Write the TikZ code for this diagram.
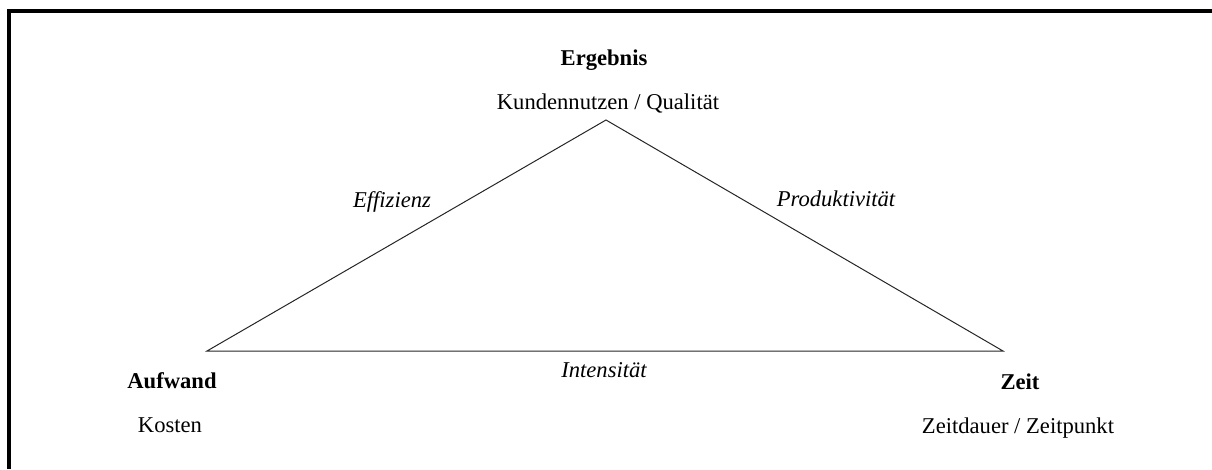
\documentclass[tikz,border=0pt]{standalone}
\usepackage{fontspec}
\setmainfont{Liberation Serif}
\usepackage{tikz}
\usetikzlibrary{calc,positioning}

\begin{document}
\begin{tikzpicture}[
  x=1pt, y=-1pt,
  corner title/.style={anchor=base, inner sep=0pt, font=\fontsize{22.6}{26}\selectfont\bfseries},
  corner text/.style={anchor=base, inner sep=0pt, font=\fontsize{22.6}{26}\selectfont},
  edge label/.style={anchor=base, inner sep=0pt, font=\fontsize{22.6}{26}\selectfont\itshape},
  frame/.style={line width=4pt, black},
  side/.style={line width=1pt, black!85}
]
  \useasboundingbox (0,0) rectangle (1212,469);
  % Frame (top and left only)
  \coordinate (fbot) at (9,469);
  \coordinate (fcorner) at (9,11);
  \coordinate (fright) at (1212,11);
  \draw[frame] (fbot) -- (fcorner) -- (fright);
  % Triangle corners
  \coordinate (ergebnis) at (606,120);
  \coordinate (aufwand) at (207,351);
  \coordinate (zeit) at (1003,351);
  \draw[side] (aufwand) -- (ergebnis) -- (zeit) -- cycle;
  % Corner labels
  \node[corner title] (ergtitle) at (604,65)  {Ergebnis};
  \node[corner text]  (ergtext)  at (608,109) {Kundennutzen / Qualität};
  \node[corner title] (auftitle) at (172,388) {Aufwand};
  \node[corner text]  (auftext)  at (170,432) {Kosten};
  \node[corner title] (zeittitle) at (1020,389) {Zeit};
  \node[corner text]  (zeittext)  at (1018,433) {Zeitdauer / Zeitpunkt};
  % Edge labels
  \node[edge label] (effizienz) at (392,207) {Effizienz};
  \node[edge label] (produkt)   at (836,206) {Produktivität};
  \node[edge label] (intens)    at (604,377) {Intensität};
\end{tikzpicture}
\end{document}
